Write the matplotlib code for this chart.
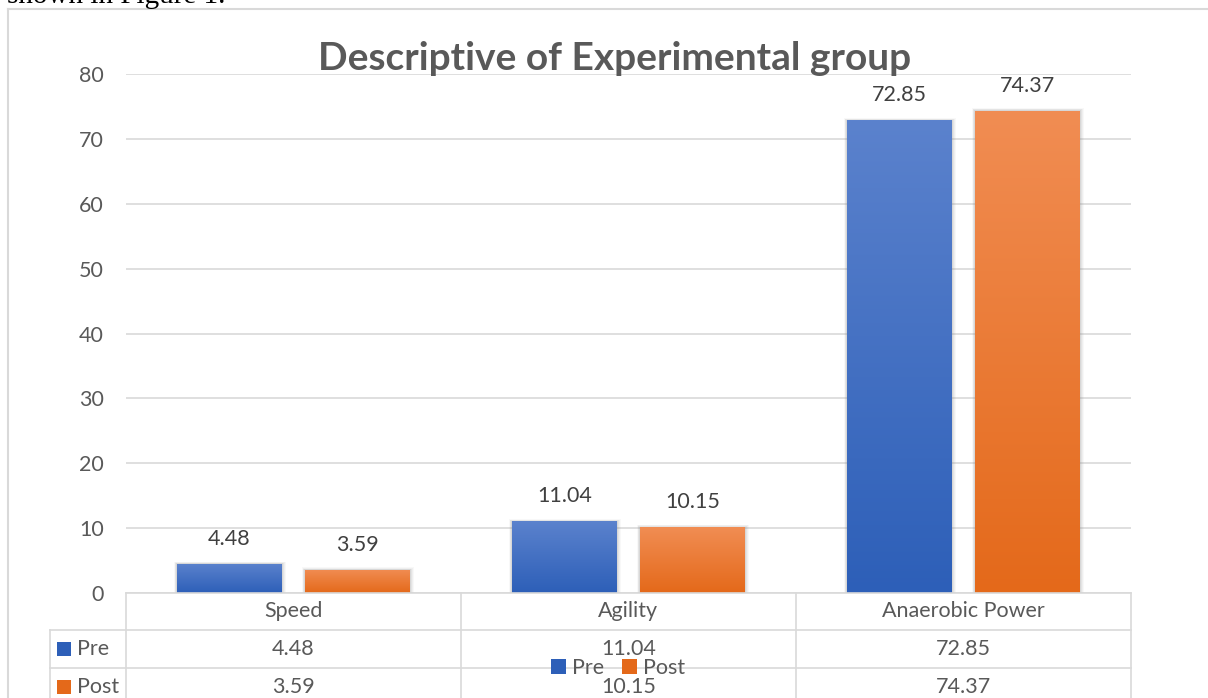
"""Grouped bar chart with an Excel-style data table underneath."""

import numpy as np
import matplotlib

matplotlib.use("Agg")
import matplotlib.pyplot as plt
from matplotlib.colors import LinearSegmentedColormap
from matplotlib.patches import Patch, Rectangle
from matplotlib.transforms import blended_transform_factory

categories = ["Speed", "Agility", "Anaerobic Power"]
pre_values = [4.48, 11.04, 72.85]
post_values = [3.59, 10.15, 74.37]
series_names = ["Pre", "Post"]
y_ticks = [0, 10, 20, 30, 40, 50, 60, 70, 80]

FONT = ["Lato", "DejaVu Sans"]
TEXT_GREY = "#595959"
LABEL_GREY = "#404040"
LINE_GREY = "#d9d9d9"
BLUE = ("#5b82cd", "#2d5fb8")
ORANGE = ("#f18d53", "#e4691a")

plt.rcParams["font.family"] = FONT

W, H = 1208, 698
fig = plt.figure(figsize=(W / 100, H / 100), dpi=100)

# plot area in pixels: x 126..1131, y 74 (80) .. 593 (0)
px_left, px_right, px_top, px_zero = 126, 1131, 74, 593
ax = fig.add_axes([px_left / W, (H - px_zero) / H,
                   (px_right - px_left) / W, (px_zero - px_top) / H])
ax.set_xlim(-0.5, 2.5)
ax.set_ylim(0, 80)
ax.set_yticks(y_ticks)
ax.set_xticks([])
ax.tick_params(axis="y", length=0, pad=16, labelsize=15.5, labelcolor=TEXT_GREY)
for s in ax.spines.values():
    s.set_visible(False)
ax.yaxis.grid(True, color=LINE_GREY, linewidth=1.2)
ax.set_axisbelow(True)

px_x = 1 / (px_right - px_left) * 3          # data units per pixel, x
px_y = 80 / (px_zero - px_top)               # data units per pixel, y

x = np.arange(len(categories))
width, offset = 0.313, 0.191


def gradient_bars(values, xpos, colors):
    bars = ax.bar(xpos, values, width, color="none", zorder=3)
    cmap = LinearSegmentedColormap.from_list("g", [colors[1], colors[0]])
    for rect in bars:
        x0, w, h = rect.get_x(), rect.get_width(), rect.get_height()
        # soft shadow around the bar
        for k, a in [(4, 0.05), (3, 0.07), (2, 0.09), (1, 0.12)]:
            ax.add_patch(Rectangle((x0 - k * px_x * 0.8, 0), w + k * px_x * 1.8,
                                   h + k * px_y * 0.6, facecolor="#7f7f7f",
                                   edgecolor="none", alpha=a, zorder=2.5))
        grad = np.linspace(0, 1, 256).reshape(-1, 1)
        im = ax.imshow(grad, cmap=cmap, origin="lower", aspect="auto",
                       extent=[x0, x0 + w, 0, h], zorder=3)
        im.set_clip_path(rect)
        ax.annotate(f"{h:.2f}", (x0 + w / 2, h), xytext=(0, 18),
                    textcoords="offset points", ha="center", va="center",
                    fontsize=15.5, color=LABEL_GREY)
    return bars


gradient_bars(pre_values, x - offset, BLUE)
gradient_bars(post_values, x + offset, ORANGE)
ax.set_xlim(-0.5, 2.5)
ax.set_ylim(0, 80)
ax.axhline(0, color=LINE_GREY, linewidth=1.2, zorder=4, clip_on=False)

# data table below the plot
tr = blended_transform_factory(ax.transData, ax.transAxes)
plot_h = px_zero - px_top


def fy(py):
    return (px_zero - py) / plot_h


def fx(px):
    return (px - px_left) / (px_right - px_left) * 3 - 0.5


row_lines = [630, 668]
for py in row_lines:
    ax.plot([fx(50), 2.5], [fy(py)] * 2, transform=tr, color=LINE_GREY,
            lw=1.2, clip_on=False)
ax.plot([fx(50)] * 2, [fy(630), fy(720)], transform=tr, color=LINE_GREY,
        lw=1.2, clip_on=False)
for xb in [-0.5, 0.5, 1.5, 2.5]:
    ax.plot([xb, xb], [0, fy(720)], transform=tr, color=LINE_GREY,
            lw=1.2, clip_on=False)

for i, cat in enumerate(categories):
    ax.text(i, fy(611), cat, transform=tr, ha="center", va="center",
            fontsize=15.5, color=TEXT_GREY)
    ax.text(i, fy(649), f"{pre_values[i]:.2f}", transform=tr, ha="center",
            va="center", fontsize=15.5, color=TEXT_GREY)
    ax.text(i, fy(687), f"{post_values[i]:.2f}", transform=tr, ha="center",
            va="center", fontsize=15.5, color=TEXT_GREY)

for name, py, col in [(series_names[0], 649, BLUE), (series_names[1], 687, ORANGE)]:
    ax.add_patch(Rectangle((fx(57), fy(py + 7)), fx(71) - fx(57), fy(py - 7) - fy(py + 7),
                           transform=tr, facecolor=col[1], edgecolor="none",
                           clip_on=False))
    ax.text(fx(77), fy(py), name, transform=tr, ha="left", va="center",
            fontsize=15.5, color=TEXT_GREY)

legend_handles = [Patch(facecolor=BLUE[1], label=series_names[0]),
                  Patch(facecolor=ORANGE[1], label=series_names[1])]
fig.legend(handles=legend_handles, loc="center", bbox_to_anchor=(618 / W, 1 - 668 / H),
           ncol=2, frameon=False, fontsize=15.5, labelcolor=TEXT_GREY,
           handlelength=0.7, handleheight=0.7, handletextpad=0.3, columnspacing=0.8)

fig.text(615 / W, 1 - 58 / H, "Descriptive of Experimental group", ha="center",
         va="center", fontsize=28, fontweight="bold", color=TEXT_GREY)

# chart frame and the sentence above it
fig.add_artist(plt.Line2D([8 / W, 8 / W], [0, 1 - 9 / H], color=LINE_GREY, lw=1.5))
fig.add_artist(plt.Line2D([8 / W, 1], [1 - 9 / H] * 2, color=LINE_GREY, lw=1.5))
fig.text(7 / W, 1 - 3 / H, "shown in Figure 1.", ha="left", va="baseline",
         fontsize=21, family=["Liberation Serif"], color="black")

fig.savefig("out.png", dpi=100)
